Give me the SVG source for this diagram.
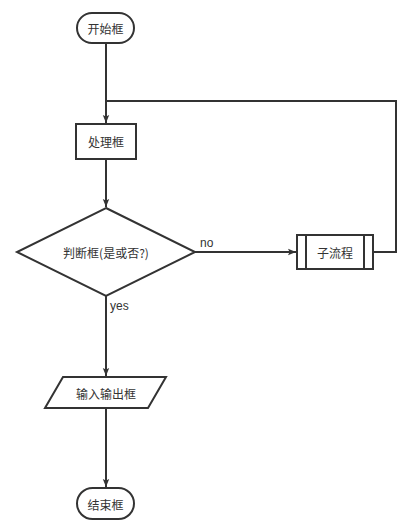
<svg xmlns="http://www.w3.org/2000/svg" width="406" height="529" viewBox="0 0 406 529">
<style>
.s{fill:#fff;stroke:#333;stroke-width:2}
.c{fill:none;stroke:#333;stroke-width:2}
.t{font-family:"Noto Sans CJK SC","Liberation Sans",sans-serif;font-size:12px;fill:#333;text-anchor:middle;dominant-baseline:central}
.l{font-family:"Liberation Sans",sans-serif;font-size:12px;fill:#333}
</style>
<defs>
<marker id="a" viewBox="0 0 10 10" refX="10" refY="5" markerWidth="8" markerHeight="8" orient="auto" markerUnits="userSpaceOnUse">
<path d="M0,1 L10,5 L0,9 L2,5 z" fill="#333"/>
</marker>
</defs>
<rect width="406" height="529" fill="#fff"/>
<g id="connectors">
<path class="c" d="M106,43 V123" marker-end="url(#a)"/>
<path class="c" d="M106,159 V207" marker-end="url(#a)"/>
<path class="c" d="M195,252 H296" marker-end="url(#a)"/>
<path class="c" d="M373,252 H396 V101 H106" />
<path class="c" d="M106,296 V376" marker-end="url(#a)"/>
<path class="c" d="M106,408 V487" marker-end="url(#a)"/>
<text class="l" x="200" y="247">no</text>
<text class="l" x="110" y="310">yes</text>
</g>
<g id="start">
<rect class="s" x="77" y="13" width="57" height="30" rx="15"/>
<text class="t" x="105.5" y="28">开始框</text>
</g>
<g id="process">
<rect class="s" x="76" y="124" width="60" height="35"/>
<text class="t" x="106" y="141.5">处理框</text>
</g>
<g id="decision">
<polygon class="s" points="106,208 195,252 106,296 17,252"/>
<text class="t" x="106" y="252">判断框(是或否?)</text>
</g>
<g id="subprocess">
<rect class="s" x="297" y="235" width="76" height="34"/>
<path class="c" d="M306,235 V269 M364,235 V269"/>
<text class="t" x="335" y="252">子流程</text>
</g>
<g id="io">
<polygon class="s" points="63,377 166,377 148,408 45,408"/>
<text class="t" x="106" y="393">输入输出框</text>
</g>
<g id="end">
<rect class="s" x="77" y="488" width="57" height="31" rx="15.5"/>
<text class="t" x="105.5" y="504">结束框</text>
</g>
</svg>
